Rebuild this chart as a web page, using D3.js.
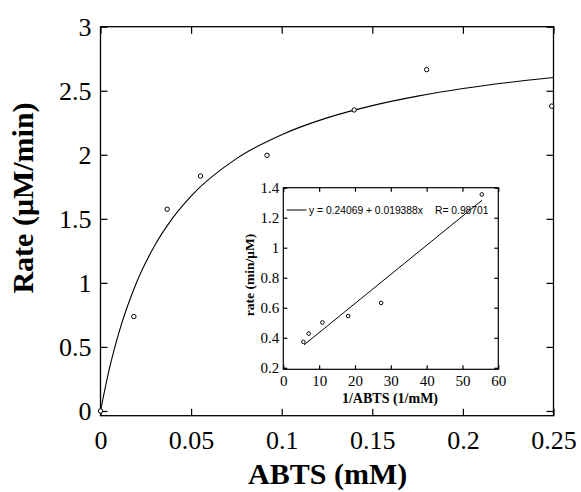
<!DOCTYPE html>
<html lang="en">
<head>
  <meta charset="UTF-8">
  <title>ABTS kinetics</title>
  <script src="https://d3js.org/d3.v7.min.js"></script>
  <style>
    body { margin: 0; background: #fff; }
    text { fill: #000; }
    .serif { font-family: "Liberation Serif", "Times New Roman", serif; }
    .sans { font-family: "Liberation Sans", Arial, sans-serif; }
    .axis path { display: none; }
    .axis line { stroke: #000; stroke-width: 1.2; }
  </style>
</head>
<body>
  <div id="chart"></div>

  <script>
    // main plot: rate vs substrate
    const abts = [0, 0.0184, 0.0368, 0.0552, 0.0919, 0.140, 0.180, 0.249];
    const rate = [0, 0.737, 1.575, 1.834, 1.996, 2.35, 2.665, 2.38];

    // fitted curve
    const fitX = [0, 0.005, 0.01, 0.02, 0.03, 0.04, 0.05, 0.075, 0.1, 0.125, 0.15, 0.175, 0.2, 0.225, 0.25];
    const fitY = [0, 0.336, 0.604, 1.007, 1.294, 1.51, 1.678, 1.97, 2.157, 2.288, 2.384, 2.458, 2.517, 2.564, 2.603];

    const xTicks = [0, 0.05, 0.1, 0.15, 0.2, 0.25];
    const yTicks = [0, 0.5, 1, 1.5, 2, 2.5, 3];

    // inset: Lineweaver-Burk
    const invAbts = [5.6, 7.1, 10.9, 18.1, 27.3, 55.4];
    const invRate = [0.373, 0.428, 0.502, 0.545, 0.632, 1.355];
    const lineX = [5.8, 55.5];
    const lineY = [0.353, 1.317];
    const insetXTicks = [0, 10, 20, 30, 40, 50, 60];
    const insetYTicks = [0.2, 0.4, 0.6, 0.8, 1, 1.2, 1.4];

    const svg = d3.select("#chart")
      .append("svg")
      .attr("width", 581)
      .attr("height", 492);

    svg.append("rect").attr("width", 581).attr("height", 492).attr("fill", "#fff");

    // ---- main plot ----
    const m = { left: 100.5, right: 553.5, top: 26.7, bottom: 415.7 };

    const x = d3.scaleLinear().domain([0, 0.25]).range([m.left, m.right]);
    const y = d3.scaleLinear().domain([-0.037, 3]).range([m.bottom, m.top]);

    const fmt = d => String(d);

    svg.append("g")
      .attr("class", "axis serif")
      .attr("transform", `translate(0,${m.bottom})`)
      .call(d3.axisBottom(x).tickValues(xTicks).tickFormat(fmt).tickSizeInner(-7).tickSizeOuter(0).tickPadding(15))
      .call(g => g.selectAll("text").attr("font-size", 26));

    svg.append("g")
      .attr("class", "axis")
      .attr("transform", `translate(0,${m.top})`)
      .call(d3.axisTop(x).tickValues(xTicks).tickFormat("").tickSizeInner(-7).tickSizeOuter(0));

    svg.append("g")
      .attr("class", "axis serif")
      .attr("transform", `translate(${m.left},0)`)
      .call(d3.axisLeft(y).tickValues(yTicks).tickFormat(fmt).tickSizeInner(-7).tickSizeOuter(0).tickPadding(9))
      .call(g => g.selectAll("text").attr("font-size", 26));

    svg.append("g")
      .attr("class", "axis")
      .attr("transform", `translate(${m.right},0)`)
      .call(d3.axisRight(y).tickValues(yTicks).tickFormat("").tickSizeInner(-7).tickSizeOuter(0));

    svg.append("rect")
      .attr("x", m.left).attr("y", m.top)
      .attr("width", m.right - m.left).attr("height", m.bottom - m.top)
      .attr("fill", "none").attr("stroke", "#000").attr("stroke-width", 1.3);

    const fit = d3.line()
      .x(i => x(fitX[i]))
      .y(i => y(fitY[i]))
      .curve(d3.curveMonotoneX);

    svg.append("path")
      .attr("d", fit(d3.range(fitX.length)))
      .attr("fill", "none").attr("stroke", "#000").attr("stroke-width", 1.1);

    svg.append("g").selectAll("circle")
      .data(d3.range(abts.length))
      .join("circle")
      .attr("cx", i => x(abts[i]))
      .attr("cy", i => y(rate[i]))
      .attr("r", 2.2)
      .attr("fill", "#fff").attr("stroke", "#000").attr("stroke-width", 1);

    svg.append("text")
      .attr("class", "serif")
      .attr("x", 327.7).attr("y", 484)
      .attr("text-anchor", "middle")
      .attr("font-size", 30).attr("font-weight", "bold")
      .text("ABTS (mM)");

    svg.append("text")
      .attr("class", "serif")
      .attr("transform", "translate(33,198) rotate(-90)")
      .attr("text-anchor", "middle")
      .attr("font-size", 30).attr("font-weight", "bold")
      .text("Rate (μM/min)");

    // ---- inset ----
    const n = { left: 283.3, right: 498.3, top: 187.7, bottom: 369.3 };

    const ix = d3.scaleLinear().domain([0, 60]).range([n.left, n.right]);
    const iy = d3.scaleLinear().domain([0.19, 1.4]).range([n.bottom, n.top]);

    svg.append("rect")
      .attr("x", n.left).attr("y", n.top)
      .attr("width", n.right - n.left).attr("height", n.bottom - n.top)
      .attr("fill", "#fff");

    svg.append("g")
      .attr("class", "axis serif")
      .attr("transform", `translate(0,${n.bottom})`)
      .call(d3.axisBottom(ix).tickValues(insetXTicks).tickFormat(fmt).tickSizeInner(-4).tickSizeOuter(0).tickPadding(6))
      .call(g => g.selectAll("text").attr("font-size", 15));

    svg.append("g")
      .attr("class", "axis")
      .attr("transform", `translate(0,${n.top})`)
      .call(d3.axisTop(ix).tickValues(insetXTicks).tickFormat("").tickSizeInner(-4).tickSizeOuter(0));

    svg.append("g")
      .attr("class", "axis serif")
      .attr("transform", `translate(${n.left},0)`)
      .call(d3.axisLeft(iy).tickValues(insetYTicks).tickFormat(fmt).tickSizeInner(-4).tickSizeOuter(0).tickPadding(4))
      .call(g => g.selectAll("text").attr("font-size", 15));

    svg.append("g")
      .attr("class", "axis")
      .attr("transform", `translate(${n.right},0)`)
      .call(d3.axisRight(iy).tickValues(insetYTicks).tickFormat("").tickSizeInner(-4).tickSizeOuter(0));

    svg.append("rect")
      .attr("x", n.left).attr("y", n.top)
      .attr("width", n.right - n.left).attr("height", n.bottom - n.top)
      .attr("fill", "none").attr("stroke", "#000").attr("stroke-width", 1.2);

    svg.append("line")
      .attr("x1", ix(lineX[0])).attr("y1", iy(lineY[0]))
      .attr("x2", ix(lineX[1])).attr("y2", iy(lineY[1]))
      .attr("stroke", "#000").attr("stroke-width", 1);

    svg.append("g").selectAll("circle")
      .data(d3.range(invAbts.length))
      .join("circle")
      .attr("cx", i => ix(invAbts[i]))
      .attr("cy", i => iy(invRate[i]))
      .attr("r", 1.8)
      .attr("fill", "#fff").attr("stroke", "#000").attr("stroke-width", 1);

    // legend
    svg.append("line")
      .attr("x1", 286.7).attr("x2", 306.5)
      .attr("y1", 210).attr("y2", 210)
      .attr("stroke", "#000").attr("stroke-width", 1);

    svg.append("text")
      .attr("class", "sans")
      .attr("x", 309).attr("y", 213.5)
      .attr("font-size", 10.3)
      .text("y = 0.24069 + 0.019388x");

    svg.append("text")
      .attr("class", "sans")
      .attr("x", 435).attr("y", 213.5)
      .attr("font-size", 10.3)
      .text("R= 0.98701");

    svg.append("text")
      .attr("class", "serif")
      .attr("x", 390).attr("y", 403)
      .attr("text-anchor", "middle")
      .attr("font-size", 14).attr("font-weight", "bold")
      .text("1/ABTS (1/mM)");

    svg.append("text")
      .attr("class", "serif")
      .attr("transform", "translate(254,275) rotate(-90)")
      .attr("text-anchor", "middle")
      .attr("font-size", 13.5).attr("font-weight", "bold")
      .text("rate (min/μM)");
  </script>
</body>
</html>
